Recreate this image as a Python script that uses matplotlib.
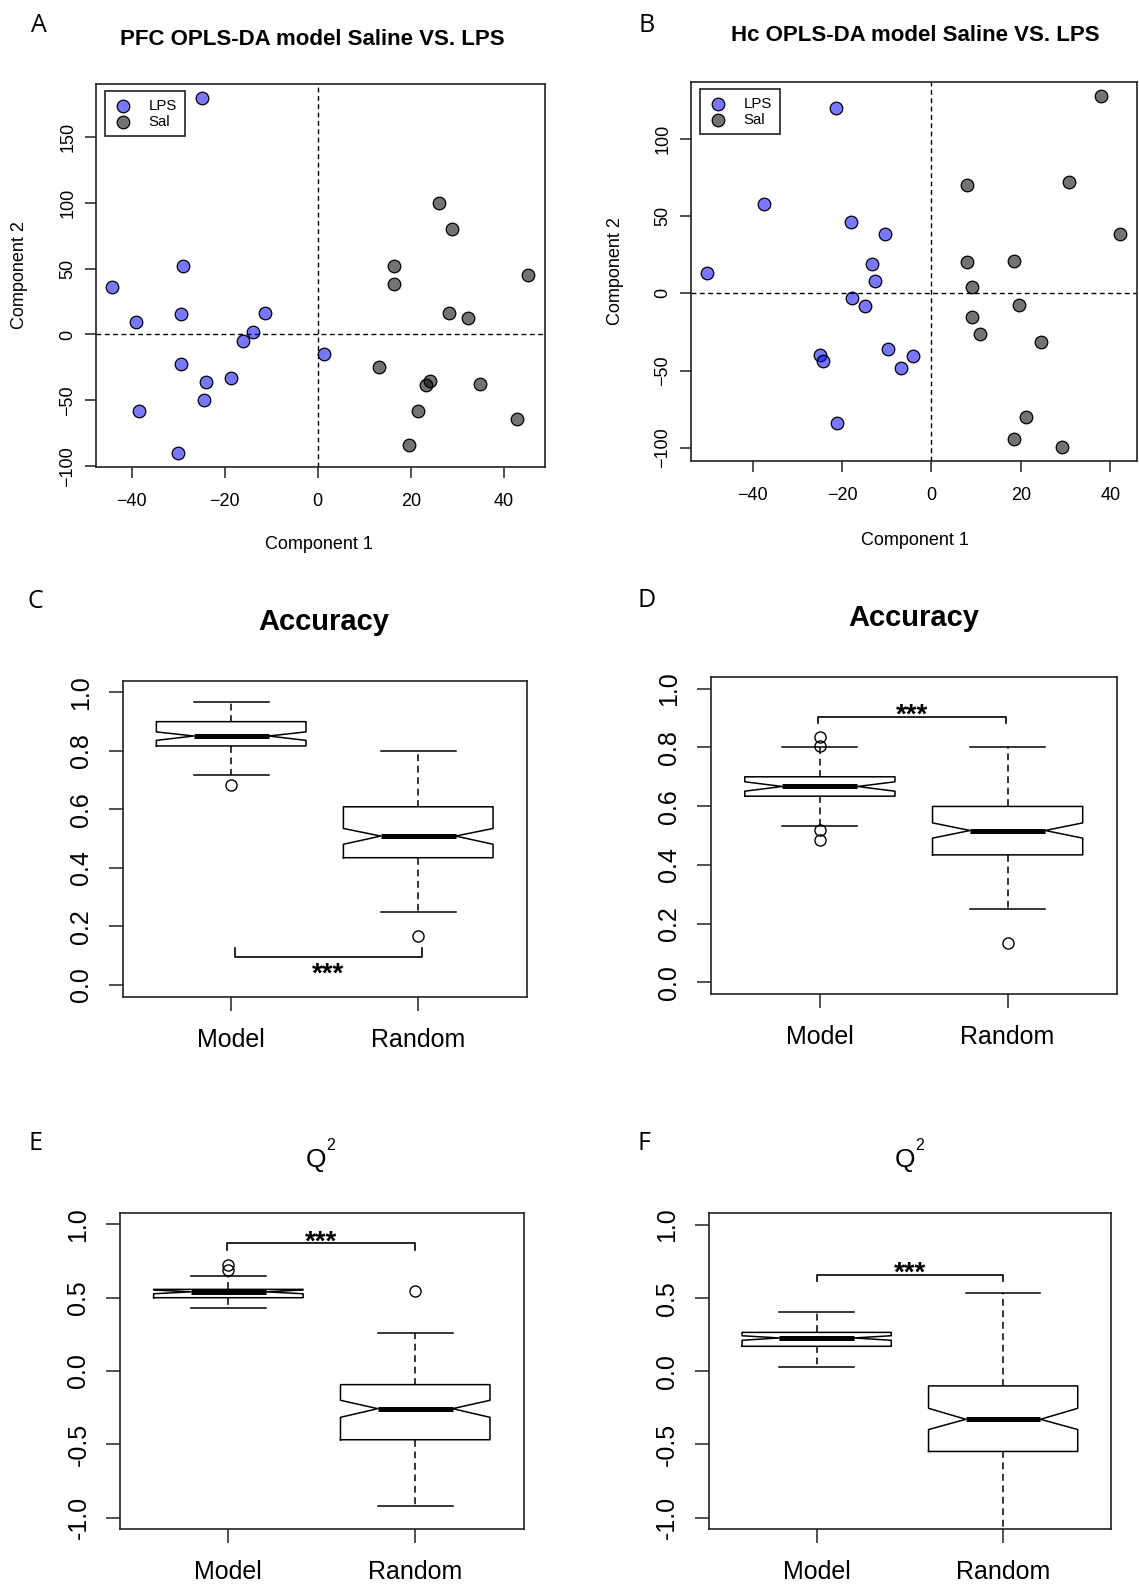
import matplotlib
matplotlib.use('Agg')
import matplotlib.pyplot as plt

plt.rcParams['font.family'] = ['Liberation Sans', 'DejaVu Sans']

W, H = 1139, 1585

# ---- OPLS-DA scores, PFC ----
pfc_lps_x = [-25.0, -44.2, -39.1, -29.0, -29.4, -11.3, -14.0, -16.0, -29.4, -18.7, -24.1, -24.5, -38.4, -30.1, 1.3]
pfc_lps_y = [179.2, 36.2, 9.5, 51.6, 15.4, 15.9, 2.2, -4.6, -22.2, -33.0, -35.7, -50.0, -58.4, -90.0, -14.9]
pfc_sal_x = [26.0, 28.9, 16.5, 16.5, 45.3, 28.2, 32.3, 13.1, 24.1, 23.3, 34.8, 21.6, 19.7, 42.9]
pfc_sal_y = [100.0, 80.0, 51.6, 38.1, 45.4, 16.5, 12.7, -24.6, -35.1, -38.4, -37.3, -58.1, -84.1, -64.1]

# ---- OPLS-DA scores, Hc ----
hc_lps_x = [-21.4, -37.5, -50.2, -18.1, -10.3, -13.4, -12.6, -17.9, -14.9, -24.9, -24.2, -9.7, -4.1, -6.8, -21.2]
hc_lps_y = [120.0, 58.0, 13.5, 45.9, 38.3, 18.8, 7.8, -2.8, -8.3, -39.9, -43.6, -36.0, -40.8, -48.2, -84.2]
hc_sal_x = [38.0, 30.8, 7.9, 42.3, 8.0, 18.4, 9.1, 19.6, 9.1, 10.9, 24.6, 21.2, 18.5, 29.2]
hc_sal_y = [127.8, 72.2, 70.2, 38.3, 20.0, 20.9, 4.4, -7.3, -15.6, -26.1, -31.7, -80.0, -94.3, -99.5]

# ---- box statistics ----
acc_pfc = [
    dict(label='Model', whislo=0.718, q1=0.817, cilo=0.836, med=0.851, cihi=0.865, q3=0.900, whishi=0.966, fliers=[0.683]),
    dict(label='Random', whislo=0.251, q1=0.435, cilo=0.481, med=0.509, cihi=0.535, q3=0.609, whishi=0.800, fliers=[0.167]),
]
acc_hc = [
    dict(label='Model', whislo=0.533, q1=0.634, cilo=0.651, med=0.667, cihi=0.683, q3=0.700, whishi=0.800, fliers=[0.484, 0.518, 0.805, 0.837]),
    dict(label='Random', whislo=0.249, q1=0.434, cilo=0.491, med=0.517, cihi=0.543, q3=0.599, whishi=0.800, fliers=[0.134]),
]
q2_pfc = [
    dict(label='Model', whislo=0.432, q1=0.500, cilo=0.527, med=0.540, cihi=0.553, q3=0.557, whishi=0.646, fliers=[0.690, 0.720]),
    dict(label='Random', whislo=-0.921, q1=-0.469, cilo=-0.316, med=-0.257, cihi=-0.200, q3=-0.093, whishi=0.259, fliers=[0.544]),
]
q2_hc = [
    dict(label='Model', whislo=0.030, q1=0.171, cilo=0.212, med=0.228, cihi=0.243, q3=0.266, whishi=0.403, fliers=[]),
    dict(label='Random', whislo=-1.200, q1=-0.548, cilo=-0.398, med=-0.328, cihi=-0.253, q3=-0.100, whishi=0.532, fliers=[]),
]

# significance brackets: x ends, end height, bar height, star height
sig_c = [(1.02, 2.02), 0.125, 0.097, 0.065]
sig_d = [(0.99, 1.99), 0.884, 0.904, 0.938]
sig_e = [(0.99, 2.00), 0.824, 0.876, 0.933]
sig_f = [(1.00, 2.00), 0.619, 0.660, 0.728]

acc_ticks = [0.0, 0.2, 0.4, 0.6, 0.8, 1.0]
q2_ticks = [-1.0, -0.5, 0.0, 0.5, 1.0]

fig = plt.figure(figsize=(W / 100, H / 100), dpi=100)


def panel(l, t, r, b):
    ax = fig.add_axes([l / W, 1 - b / H, (r - l) / W, (b - t) / H])
    for s in ax.spines.values():
        s.set_linewidth(1.2)
        s.set_color('#222222')
    return ax


def rlim(vals):
    lo, hi = min(vals), max(vals)
    d = 0.04 * (hi - lo)
    return lo - d, hi + d


def ftext(x, y, s, **kw):
    fig.text(x / W, 1 - y / H, s, ha='center', va='center', **kw)


def scores(ax, lx, ly, sx, sy, xt, yt):
    ax.axhline(0, color='k', lw=1, ls=(0, (3.5, 2.5)), zorder=1)
    ax.axvline(0, color='k', lw=1, ls=(0, (3.5, 2.5)), zorder=1)
    ax.scatter(lx, ly, s=82, color=(0, 0, 1, 0.53), edgecolors='k', linewidths=0.9, label='LPS', zorder=3)
    ax.scatter(sx, sy, s=82, color=(0, 0, 0, 0.55), edgecolors='k', linewidths=0.9, label='Sal', zorder=3)
    ax.set_xlim(rlim(lx + sx))
    ax.set_ylim(rlim(ly + sy))
    ax.set_xticks(xt)
    ax.set_yticks(yt)
    ax.tick_params(length=8, width=1.1, color='#222222', labelsize=13)
    ax.tick_params(axis='x', pad=10.5)
    ax.tick_params(axis='y', pad=6)
    plt.setp(ax.get_yticklabels(), rotation=90, va='center')
    w = ax.get_position().width * W
    h = ax.get_position().height * H
    leg = ax.legend(loc='upper left', bbox_to_anchor=(9.5 / w, 1 - 7 / h), borderaxespad=0,
                    fontsize=10.8, fancybox=False, framealpha=1, edgecolor='#222222',
                    borderpad=0.5, handlelength=1.4, handletextpad=1.0, labelspacing=0.15,
                    scatterpoints=1)
    leg.get_frame().set_linewidth(1.2)


def boxes(ax, stats, ylim, yt, sig):
    ax.bxp(stats, positions=[1, 2], widths=0.8, shownotches=True,
           boxprops=dict(color='k', lw=1.1),
           whiskerprops=dict(color='k', lw=1.1, ls=(0, (4.5, 3))),
           capprops=dict(color='k', lw=1.1),
           medianprops=dict(color='k', lw=3.6, solid_capstyle='butt'),
           flierprops=dict(marker='o', mfc='none', mec='k', ms=8, mew=1.0))
    ax.set_xlim(0.42, 2.58)
    ax.set_ylim(ylim)
    ax.set_yticks(yt)
    ax.set_yticklabels(['%.1f' % v for v in yt])
    ax.tick_params(length=10.3, width=1.1, color='#222222', labelsize=18)
    ax.tick_params(axis='x', pad=12)
    ax.tick_params(axis='y', pad=11)
    plt.setp(ax.get_yticklabels(), rotation=90, va='center')
    (x1, x2), y_end, y_bar, y_star = sig
    ax.plot([x1, x1, x2, x2], [y_end, y_bar, y_bar, y_end], color='k', lw=1.2)
    ax.annotate('***', xy=((x1 + x2) / 2, y_star), xytext=(0, -0.57 * 20), textcoords='offset points',
                ha='center', va='baseline', fontsize=20, fontweight='bold')


# A / B: score plots
axA = panel(95.7, 84, 545, 467.3)
scores(axA, pfc_lps_x, pfc_lps_y, pfc_sal_x, pfc_sal_y, [-40, -20, 0, 20, 40], [-100, -50, 0, 50, 100, 150])
axB = panel(690.7, 82, 1137, 461)
scores(axB, hc_lps_x, hc_lps_y, hc_sal_x, hc_sal_y, [-40, -20, 0, 20, 40], [-100, -50, 0, 50, 100])

ftext(312.7, 39.3, 'PFC OPLS-DA model Saline VS. LPS', fontsize=16, fontweight='bold')
ftext(915, 35.7, 'Hc OPLS-DA model Saline VS. LPS', fontsize=16, fontweight='bold')
ftext(319, 544.6, 'Component 1', fontsize=13)
ftext(20, 275, 'Component 2', fontsize=13, rotation=90)
ftext(914.7, 541, 'Component 1', fontsize=13)
ftext(615.5, 271, 'Component 2', fontsize=13, rotation=90)

# C / D: accuracy
axC = panel(122.7, 680.7, 526.7, 996.7)
boxes(axC, acc_pfc, (-0.04, 1.04), acc_ticks, sig_c)
axD = panel(711, 677, 1116.5, 994)
boxes(axD, acc_hc, (-0.04, 1.04), acc_ticks, sig_d)
ftext(324, 622, 'Accuracy', fontsize=21, fontweight='bold')
ftext(913.6, 617.7, 'Accuracy', fontsize=21, fontweight='bold')

# E / F: Q2
axE = panel(120, 1212.7, 523.6, 1529.3)
boxes(axE, q2_pfc, (-1.08, 1.08), q2_ticks, sig_e)
axF = panel(708.5, 1213.3, 1111.3, 1529.3)
boxes(axF, q2_hc, (-1.08, 1.08), q2_ticks, sig_f)
ftext(316, 1160, 'Q', fontsize=19)
ftext(331, 1146, '2', fontsize=11.5)
ftext(905, 1160, 'Q', fontsize=19)
ftext(920, 1146, '2', fontsize=11.5)

# panel letters
for lab, x, y in [('A', 39, 25), ('B', 646.4, 25.7), ('C', 35.6, 601.7),
                  ('D', 647, 600.7), ('E', 35.3, 1143.3), ('F', 644.5, 1143.3)]:
    ftext(x, y, lab, fontsize=18, family=['Open Sans', 'DejaVu Sans'])

fig.savefig('out.png', dpi=100)
